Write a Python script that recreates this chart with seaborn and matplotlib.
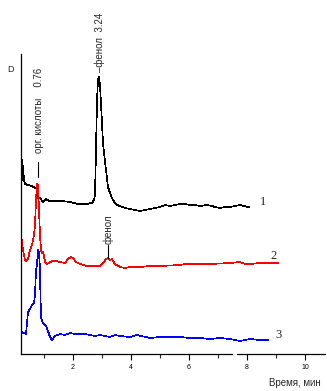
import numpy as np
import pandas as pd
import matplotlib
matplotlib.use("Agg")
import matplotlib.pyplot as plt
import seaborn as sns

# Chromatogram traces: retention time (min) vs detector signal (arb. units)
t1 = [0.224, 0.241, 0.276, 0.310, 0.345, 0.448, 0.586, 0.690, 0.759, 0.793, 0.862, 0.966,
      1.069, 1.172, 1.379, 1.621, 1.897, 2.172, 2.448, 2.655, 2.724, 2.759, 2.793, 2.828,
      2.862, 2.897, 2.931, 2.966, 3.034, 3.103, 3.138, 3.207, 3.276, 3.345, 3.448,
      3.517, 3.621, 3.793, 3.966, 4.138, 4.310, 4.483, 4.655, 4.828, 5.000, 5.172, 5.345,
      5.517, 5.690, 5.862, 6.034, 6.207, 6.379, 6.621, 6.793, 6.897, 7.069, 7.241, 7.414,
      7.586, 7.759, 7.897, 8.034, 8.069]
s1 = [164, 194, 186, 174, 170, 169, 168, 166, 165, 156, 156, 152,
      155, 153, 153, 153, 152, 150, 150, 151, 154, 159, 204, 254,
      274, 277, 269, 250, 211, 192, 184, 167, 161, 156, 151,
      149, 148, 146, 145, 144, 143, 144, 145, 146, 147, 149, 148,
      149, 150, 150, 149, 149, 148, 149, 148, 147, 146, 147, 147,
      148, 149, 148, 147, 147]

t2 = [0.207, 0.276, 0.345, 0.379, 0.448, 0.517, 0.586, 0.655, 0.690, 0.724, 0.759, 0.793,
      0.828, 0.862, 0.897, 0.931, 0.966, 1.000, 1.034, 1.103, 1.172, 1.276, 1.414, 1.552,
      1.724, 1.828, 1.931, 2.000, 2.103, 2.241, 2.483, 2.759, 2.931, 3.069, 3.138, 3.207,
      3.276, 3.345, 3.448, 3.621, 3.793, 3.966, 4.310, 4.655, 5.000, 5.690, 5.862, 6.207,
      6.724, 7.414, 7.759, 7.931, 8.103, 8.448, 8.621, 8.793, 9.069]
s2 = [119, 104, 94, 93, 95, 104, 109, 119, 129, 154, 170, 169,
      144, 119, 104, 101, 102, 98, 92, 90, 91, 93, 93, 92,
      91, 95, 97, 96, 92, 90, 88, 88, 88, 92, 95, 96,
      94, 95, 90, 87, 86, 87, 87, 88, 88, 89, 90, 90,
      90, 91, 92, 90, 90, 91, 91, 91, 91]

t3 = [0.207, 0.310, 0.379, 0.414, 0.448, 0.517, 0.586, 0.655, 0.690, 0.724, 0.759, 0.793,
      0.828, 0.862, 0.879, 0.897, 0.966, 1.069, 1.138, 1.207, 1.276, 1.379, 1.552, 1.724,
      1.897, 2.069, 2.241, 2.414, 2.586, 2.759, 2.931, 3.103, 3.276, 3.448, 3.621, 3.966,
      4.207, 4.655, 5.000, 5.690, 6.034, 6.379, 6.724, 7.069, 7.414, 7.759, 8.103, 8.448,
      8.724]
s3 = [22, 21, 20, 31, 42, 45, 49, 51, 59, 84, 89, 104,
      102, 84, 57, 36, 31, 28, 23, 17, 14, 18, 20, 19,
      21, 20, 20, 20, 19, 18, 19, 18, 17, 19, 18, 17,
      19, 16, 17, 17, 16, 16, 15, 16, 15, 13, 15, 14,
      14]

trace_names = ["1", "2", "3"]
trace_colors = ["#000000", "#ff0000", "#0000ff"]

major_ticks = [2, 4, 6, 8, 10]
minor_ticks = [1, 3, 5, 7, 9]

sns.set_style("ticks")
plt.rcParams["font.family"] = ["Liberation Sans", "DejaVu Sans"]

fig = plt.figure(figsize=(3.27, 3.91), dpi=100)
ax = fig.add_axes([21 / 327, 37 / 391, 304 / 327, 300 / 391])

frames = []
for name, t, s in zip(trace_names, [t1, t2, t3], [s1, s2, s3]):
    frames.append(pd.DataFrame({"t": t, "s": s, "trace": name}))
df = pd.concat(frames, ignore_index=True)

for name, color in zip(trace_names, trace_colors):
    sub = df[df["trace"] == name]
    sns.lineplot(data=sub, x="t", y="s", color=color, lw=0.5, sort=False,
                 estimator=None, ax=ax, legend=False, antialiased=False)

x0, x1 = 0.207, 10.69
ax.set_xlim(x0, x1)
ax.set_ylim(0, 300)
ax.set_xlabel("")
ax.set_ylabel("")

# axes frame: left spine, broken bottom axis
for side in ["top", "right"]:
    ax.spines[side].set_visible(False)
for side in ["left", "bottom"]:
    ax.spines[side].set_linewidth(0.9)
    ax.spines[side].set_color("black")
ax.spines["bottom"].set_bounds(x0, 7.48)
ax.plot([7.66, x1], [0, 0], color="black", lw=0.9, clip_on=False, zorder=5)

ax.set_yticks([])
ax.set_xticks(major_ticks)
ax.set_xticklabels([str(v) for v in major_ticks], fontsize=5)
ax.set_xticks(minor_ticks, minor=True)
ax.tick_params(axis="x", which="major", direction="out", length=4, width=0.8,
               pad=3, colors="black")
ax.tick_params(axis="x", which="minor", direction="out", length=3, width=0.8)

# peak annotations
ax.text(2.93, 282, "–фенол  3.24", rotation=90, ha="center", va="bottom", fontsize=7)
ax.plot([0.79, 0.79], [177, 192], color="black", lw=0.8)
ax.text(0.83, 201, "орг. кислоты    0.76", rotation=90, ha="center", va="bottom",
        fontsize=7)
ax.plot([3.21, 3.21], [96, 109], color="black", lw=0.8)
ax.text(3.21, 110, "фенол", rotation=90, ha="center", va="bottom", fontsize=7)

# trace numbers
for name, (tx, ty) in zip(trace_names, [(8.55, 152), (8.90, 98), (9.07, 19)]):
    ax.text(tx, ty, name, ha="center", va="center", fontsize=9,
            family=["Liberation Serif", "DejaVu Serif"])

fig.text(10 / 327, 1 - 69 / 391, "D", ha="center", va="center", fontsize=6.5)
fig.text(295 / 327, 1 - 383 / 391, "Время, мин", ha="center", va="center", fontsize=7)

fig.savefig("out.png", dpi=100)
